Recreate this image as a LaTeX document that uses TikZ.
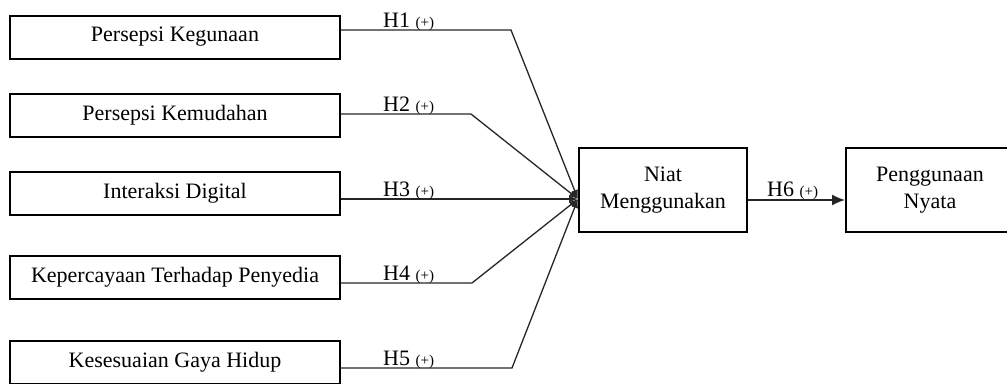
\documentclass[tikz,border=0pt]{standalone}
\usepackage{fontspec}
\setmainfont{Liberation Serif}
\usetikzlibrary{arrows.meta}
\newcommand\plusmark{{\fontsize{15}{15}\selectfont(+)}}
\begin{document}
\begin{tikzpicture}[x=1pt,y=-1pt,
  box/.style={draw=black,line width=2pt,fill=white,minimum width=330pt,minimum height=43pt,inner sep=0pt,font=\fontsize{22}{26}\selectfont},
  mbox/.style={draw=black,line width=2pt,fill=white,minimum width=168pt,minimum height=84pt,inner sep=0pt,align=center,font=\fontsize{22}{27}\selectfont},
  conn/.style={draw=black!85,line width=1.3pt},
  tip/.style={-{Latex[length=9pt,width=7pt]}},
  bigtip/.style={-{Latex[length=13pt,width=11pt]}},
  hlab/.style={anchor=base west,inner sep=0pt,font=\fontsize{22}{26}\selectfont}]
\useasboundingbox (0,0) rectangle (1007,383);
\node[box] (b1) at (175,37) {Persepsi Kegunaan};
\node[box] (b2) at (175,115.5) {Persepsi Kemudahan};
\node[box] (b3) at (175,193) {Interaksi Digital};
\node[box] (b4) at (175,277.5) {Kepercayaan Terhadap Penyedia};
\node[box] (b5) at (175,362) {Kesesuaian Gaya Hidup};
\node[mbox] (niat) at (663,190) {Niat\\Menggunakan};
\node[mbox] (nyata) at (930,190) {Penggunaan\\Nyata};
% start points and bends
\coordinate (s1) at (b1.east |- 0,30);
\coordinate (s2) at (b2.east |- 0,114);
\coordinate (s3) at (b3.east |- 0,199);
\coordinate (s4) at (b4.east |- 0,283);
\coordinate (s5) at (b5.east |- 0,368);
\coordinate (k1) at (511,30);
\coordinate (k2) at (471,114);
\coordinate (k4) at (472,283);
\coordinate (k5) at (512,368);
\coordinate (j) at (niat.west |- 0,199);
\draw[conn,tip] (s1) -- (k1) -- (j);
\draw[conn,tip] (s2) -- (k2) -- (j);
\draw[conn,tip] (s3) -- (j);
\draw[conn,tip] (s4) -- (k4) -- (j);
\draw[conn,tip] (s5) -- (k5) -- (j);
\coordinate (o6) at (niat.east |- 0,200);
\coordinate (e6) at (nyata.west |- 0,200);
\draw[conn,bigtip] (o6) -- (e6);
% labels
\node[hlab] (h1) at (383,27) {H1 \plusmark};
\node[hlab] (h2) at (383,111) {H2 \plusmark};
\node[hlab] (h3) at (383,196) {H3 \plusmark};
\node[hlab] (h4) at (383,280) {H4 \plusmark};
\node[hlab] (h5) at (383,365) {H5 \plusmark};
\node[hlab] (h6) at (767,196) {H6 \plusmark};
\end{tikzpicture}
\end{document}
